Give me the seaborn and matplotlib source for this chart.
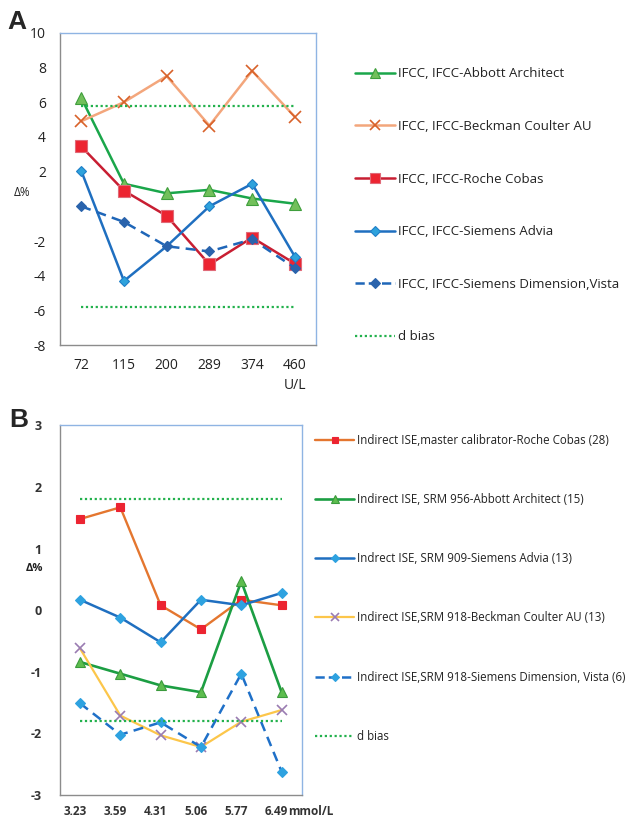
import matplotlib
matplotlib.use("Agg")
import matplotlib.pyplot as plt
import matplotlib.transforms as mtransforms
import seaborn as sns
import pandas as pd
from matplotlib.lines import Line2D

sns.set_theme(style="white")
plt.rcParams['font.family'] = ['Open Sans', 'DejaVu Sans']

# ---------------- Panel A data ----------------
cats_A = ["72", "115", "200", "289", "374", "460"]
abbott_A = [6.25, 1.3, 0.75, 0.95, 0.45, 0.15]
beckman_A = [4.9, 6.0, 7.5, 4.65, 7.8, 5.15]
roche_A = [3.45, 0.9, -0.55, -3.35, -1.8, -3.3]
advia_A = [2.05, -4.3, -2.3, 0.0, 1.3, -2.9]
dimension_A = [0.0, -0.9, -2.3, -2.6, -1.9, -3.55]
dbias_A = 5.8
labels_A = ["IFCC, IFCC-Abbott Architect", "IFCC, IFCC-Beckman Coulter AU",
            "IFCC, IFCC-Roche Cobas", "IFCC, IFCC-Siemens Advia",
            "IFCC, IFCC-Siemens Dimension,Vista", "d bias"]

# ---------------- Panel B data ----------------
cats_B = ["3.23", "3.59", "4.31", "5.06", "5.77", "6.49"]
roche_B = [1.48, 1.67, 0.08, -0.31, 0.17, 0.08]
abbott_B = [-0.84, -1.03, -1.22, -1.33, 0.47, -1.33]
advia_B = [0.17, -0.12, -0.52, 0.17, 0.08, 0.28]
beckman_B = [-0.62, -1.71, -2.03, -2.22, -1.81, -1.62]
dimension_B = [-1.51, -2.02, -1.82, -2.22, -1.03, -2.62]
dbias_B = 1.8
labels_B = ["Indirect ISE,master calibrator-Roche Cobas (28)",
            "Indirect ISE, SRM 956-Abbott Architect (15)",
            "Indrect ISE, SRM 909-Siemens Advia (13)",
            "Indirect ISE,SRM 918-Beckman Coulter AU (13)",
            "Indirect ISE,SRM 918-Siemens Dimension, Vista (6)",
            "d bias"]

GRID_GRAY = "#8c8c8c"
FRAME_BLUE = "#8fb4e3"
DB_GREEN = "#22b14c"
DOTS = (0, (1, 1.2))

fig = plt.figure(figsize=(6.3, 8.18), dpi=100)
axA = fig.add_axes([0.095, 0.578, 0.407, 0.382])
axB = fig.add_axes([0.095, 0.028, 0.384, 0.452])


def series(ax, cats, vals, line_color, marker, mfc, mec, ms, ls="-", lw=1.8, mew=0.8, label=None):
    df = pd.DataFrame({"x": cats, "y": vals})
    sns.lineplot(data=df, x="x", y="y", ax=ax, color=line_color, linestyle=ls, linewidth=lw,
                 marker=marker, markersize=ms, markerfacecolor=mfc, markeredgecolor=mec,
                 markeredgewidth=mew, sort=False, label=label, legend=False)


def style_axes(ax, ncat):
    ax.set_xlim(-0.5, ncat - 0.5)
    for s in ["top", "right"]:
        ax.spines[s].set_color(FRAME_BLUE)
        ax.spines[s].set_linewidth(1.0)
    for s in ["left", "bottom"]:
        ax.spines[s].set_color(GRID_GRAY)
        ax.spines[s].set_linewidth(1.0)
    ax.set_xlabel("")
    ax.set_ylabel("")
    ax.set_xticks([i - 0.5 for i in range(ncat + 1)], minor=True)
    ax.tick_params(axis="x", which="major", length=0, pad=9)
    ax.tick_params(axis="x", which="minor", length=5, color=GRID_GRAY, direction="out", width=1)
    ax.tick_params(axis="y", which="major", length=4, color=GRID_GRAY, direction="out", width=1, pad=6)


def make_handles(ax, scale):
    hs = []
    for l in ax.get_lines()[:6]:
        hs.append(Line2D([], [], color=l.get_color(), linestyle=l.get_linestyle(),
                         linewidth=l.get_linewidth(), marker=l.get_marker(),
                         markersize=l.get_markersize() * scale,
                         markerfacecolor=l.get_markerfacecolor(),
                         markeredgecolor=l.get_markeredgecolor(),
                         markeredgewidth=l.get_markeredgewidth()))
    hs[5].set_marker("")
    hs[5].set_linestyle(DOTS)
    return hs


# ---------------- Panel A ----------------
series(axA, cats_A, abbott_A, "#1aa64a", "^", "#72c05b", "#3f9e3c", 8, label=labels_A[0])
series(axA, cats_A, beckman_A, "#f3a67c", "x", "#d8622a", "#d8622a", 8, mew=1.2, label=labels_A[1])
series(axA, cats_A, roche_A, "#c81e32", "s", "#ec2431", "#e06a78", 8.5, label=labels_A[2])
series(axA, cats_A, advia_A, "#1f6fc0", "D", "#2ea2dc", "#1f7fc8", 5.5, label=labels_A[3])
series(axA, cats_A, dimension_A, "#1f66b8", "D", "#2a63ac", "#2a63ac", 5.5, ls=(0, (4, 2.5)), label=labels_A[4])
series(axA, cats_A, [dbias_A] * len(cats_A), DB_GREEN, None, None, None, 0, ls=DOTS, lw=1.6)
series(axA, cats_A, [-dbias_A] * len(cats_A), DB_GREEN, None, None, None, 0, ls=DOTS, lw=1.6)

axA.set_ylim(-8, 10)
axA.set_yticks(range(-8, 11, 2))
axA.set_yticklabels([str(v) if v != 0 else "" for v in range(-8, 11, 2)], fontsize=10, color="#222222")
style_axes(axA, len(cats_A))
axA.set_xticks(range(len(cats_A)))
axA.set_xticklabels(cats_A[:-1] + [cats_A[-1] + "\nU/L"], fontsize=10, color="#222222",
                    va="top", linespacing=1.5)
axA.text(-0.148, 0.489, "Δ%", transform=axA.transAxes, fontsize=8.5, ha="center", va="center",
         color="#222222")

fig.legend(make_handles(axA, 0.85), labels_A, loc="upper left", bbox_to_anchor=(0.545, 0.932),
           frameon=False, fontsize=9.5, labelspacing=3.0, handlelength=3.0, handletextpad=0.25,
           labelcolor="#222222")

# ---------------- Panel B ----------------
series(axB, cats_B, roche_B, "#e4762f", "s", "#ec2431", "#ec2431", 5.5, lw=1.7, label=labels_B[0])
series(axB, cats_B, abbott_B, "#1c9e43", "^", "#5dbd4e", "#3a9a3c", 7, lw=1.9, label=labels_B[1])
series(axB, cats_B, advia_B, "#1f6fc0", "D", "#2ea2e0", "#2ea2e0", 4.8, lw=1.8, label=labels_B[2])
series(axB, cats_B, beckman_B, "#fcc64a", "x", "#9a7cb2", "#9a7cb2", 7, lw=1.6, mew=1.2, label=labels_B[3])
series(axB, cats_B, dimension_B, "#1f70c8", "D", "#2ea2e0", "#2ea2e0", 4.8, ls=(0, (4, 2.5)), lw=1.8,
       label=labels_B[4])
series(axB, cats_B, [dbias_B] * len(cats_B), DB_GREEN, None, None, None, 0, ls=DOTS, lw=1.6)
series(axB, cats_B, [-dbias_B] * len(cats_B), DB_GREEN, None, None, None, 0, ls=DOTS, lw=1.6)

axB.set_ylim(-3, 3)
axB.set_yticks(range(-3, 4))
axB.set_yticklabels([str(v) for v in range(-3, 4)], fontsize=9, color="#333333", fontweight="bold")
style_axes(axB, len(cats_B))
axB.tick_params(axis="y", which="major", pad=9)
axB.set_xticks(range(len(cats_B)))
axB.set_xticklabels(cats_B, fontsize=8.5, color="#333333", fontweight="bold")
axB.tick_params(axis="x", which="major", pad=7)
shift = mtransforms.ScaledTranslation(-5 / 100, 0, fig.dpi_scale_trans)
for lab in axB.get_xticklabels():
    lab.set_transform(lab.get_transform() + shift)
axB.annotate("mmol/L", xy=(5, 0), xycoords=("data", "axes fraction"), xytext=(5, -7),
             textcoords="offset points", ha="left", va="top", fontsize=8.5, fontweight="bold",
             color="#333333", annotation_clip=False)
axB.text(-0.103, 0.613, "Δ%", transform=axB.transAxes, fontsize=8, ha="center", va="center",
         color="#222222", fontweight="bold")

fig.legend(make_handles(axB, 0.8), labels_B, loc="upper left", bbox_to_anchor=(0.484, 0.482),
           frameon=False, fontsize=8.3, labelspacing=4.0, handlelength=3.4, handletextpad=0.25,
           labelcolor="#222222")

fig.text(0.012, 0.9737, "A", fontsize=19, fontweight="bold", ha="left", va="center",
         family=["Liberation Sans", "DejaVu Sans"])
fig.text(0.014, 0.4866, "B", fontsize=19, fontweight="bold", ha="left", va="center",
         family=["Liberation Sans", "DejaVu Sans"])

fig.savefig("out.png", dpi=100, facecolor="white")
